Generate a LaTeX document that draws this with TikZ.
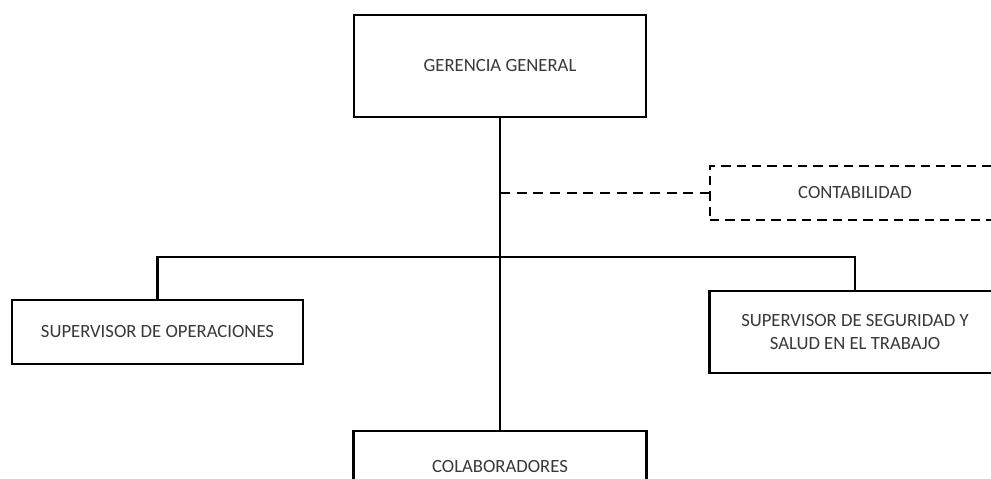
\documentclass[tikz,border=0pt]{standalone}
\usepackage{fontspec}
\setmainfont{Carlito}
\usetikzlibrary{positioning}
\definecolor{txtgray}{RGB}{55,55,62}
\begin{document}
\begin{tikzpicture}[x=0.75pt, y=-0.75pt,
  every node/.style={font=\fontsize{14}{17.5}\selectfont, text=txtgray},
  unit/.style={draw, line width=1.8pt, align=center, inner sep=0pt},
  staff/.style={draw, line width=1.5pt, dash pattern=on 7pt off 4.5pt, align=center, inner sep=0pt},
  link/.style={line width=1.8pt}]
\useasboundingbox (0,0) rectangle (991,478);
\clip (0,0) rectangle (991,478);
\node[unit, minimum width=219pt, minimum height=76.5pt] (gerencia) at (500,66) {GERENCIA GENERAL};
\node[staff, minimum width=217.5pt, minimum height=40.5pt] (conta) at (855,193) {CONTABILIDAD};
\node[unit, minimum width=218.25pt, minimum height=48pt] (oper) at (157.5,332) {SUPERVISOR DE OPERACIONES};
\node[unit, minimum width=218pt, minimum height=61.5pt] (sst) at (855,332) {SUPERVISOR DE SEGURIDAD Y\\SALUD EN EL TRABAJO};
\node[unit, minimum width=219.75pt, minimum height=54pt] (colab) at (500,467) {COLABORADORES};
\coordinate (hub) at (500,257);
% lineas de mando
\draw[link] (gerencia.south) -- (colab.north);
\draw[link] (oper.north) |- (hub) -| (sst.north);
% asesoria
\draw[link, dash pattern=on 7.5pt off 5pt] (gerencia.south |- conta.west) -- (conta.west);
\end{tikzpicture}
\end{document}
